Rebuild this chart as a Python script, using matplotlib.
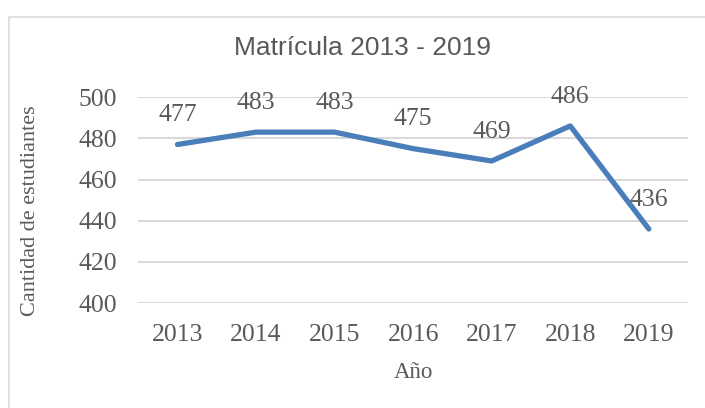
import matplotlib
matplotlib.use("Agg")
import matplotlib.pyplot as plt
from matplotlib.patches import Rectangle

# datos
years = ["2013", "2014", "2015", "2016", "2017", "2018", "2019"]
students = [477, 483, 483, 475, 469, 486, 436]
yticks = [400, 420, 440, 460, 480, 500]

txt = "#595959"
grid = "#d9d9d9"
blue = "#4a7ebb"
serif = ["Liberation Serif", "DejaVu Serif"]

fig = plt.figure(figsize=(7.05, 4.08), dpi=100)
ax = fig.add_axes([0.196, 0.257, 0.78, 0.505])

# marco del grafico
fig.patches.append(Rectangle((9 / 705, -0.2), 1.2, 1 - 17 / 408 + 0.2,
                             transform=fig.transFigure, fill=False,
                             edgecolor=grid, linewidth=1.2))

x = range(len(years))
ax.plot(x, students, color=blue, linewidth=3.8, solid_capstyle="round",
        solid_joinstyle="round", zorder=3)
for xi, v in zip(x, students):
    ax.annotate(str(v), (xi, v), xytext=(0, 21), textcoords="offset points",
                ha="center", va="center", fontsize=18.5, family=serif,
                color=txt, annotation_clip=False)

ax.set_xlim(-0.5, len(years) - 0.5)
ax.set_ylim(400, 500)
ax.set_yticks(yticks)
ax.set_xticks(list(x))
ax.set_xticklabels(years)
ax.yaxis.grid(True, color=grid, linewidth=1.5)
ax.set_axisbelow(True)
for s in ax.spines.values():
    s.set_visible(False)
ax.tick_params(length=0, labelsize=18.5, labelcolor=txt)
ax.tick_params(axis="y", pad=15)
ax.tick_params(axis="x", pad=15)
for lab in ax.get_xticklabels() + ax.get_yticklabels():
    lab.set_family(serif)

ax.set_xlabel("Año", fontsize=16.5, family=serif, color=txt, va="center")
ax.xaxis.set_label_coords(0.5, -0.335)
ax.set_ylabel("Cantidad de estudiantes", fontsize=16, family=serif,
              color=txt, va="center")
ax.yaxis.set_label_coords(-0.196, 0.45)

fig.text(363 / 705, 1 - 48 / 408, "Matrícula 2013 - 2019", ha="center",
         va="center", fontsize=19, color=txt,
         family=["Liberation Sans Narrow", "Liberation Sans", "DejaVu Sans"])

fig.savefig("out.png", dpi=100)
